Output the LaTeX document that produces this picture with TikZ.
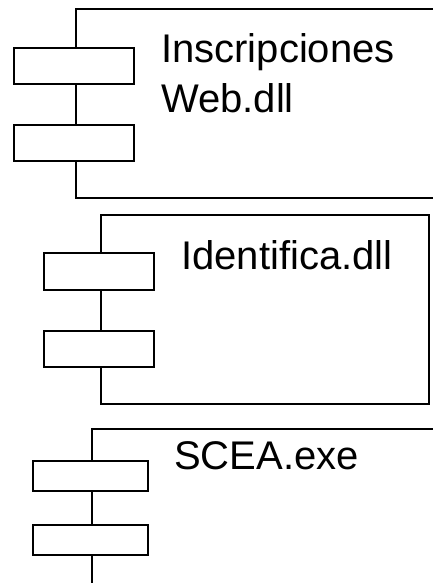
\documentclass[tikz,border=0pt]{standalone}
\usepackage{fontspec}
\setmainfont{Liberation Sans}
\begin{document}
\begin{tikzpicture}[x=1pt,y=-1pt,
  body/.style={draw,line width=1.6pt,rectangle,inner sep=0pt,anchor=north west},
  port/.style={draw,line width=1.6pt,fill=white,rectangle,inner sep=0pt,anchor=north west},
  lbl/.style={anchor=base west,inner sep=0pt,font=\fontsize{40}{50}\selectfont,align=left}]
\useasboundingbox (0,0) rectangle (433,583);
\clip (0,0) rectangle (433,583);
% component 1
\node[body,minimum width=375pt,minimum height=189pt] (c1) at (75,8) {};
\node[port,minimum width=120pt,minimum height=36pt] (c1a) at (13,47) {};
\node[port,minimum width=120pt,minimum height=36pt] (c1b) at (13,124) {};
\node[lbl] (t1) at (161,63) {Inscripciones};
\node[lbl] (t1b) at (161,113) {Web.dll};
% component 2
\node[body,minimum width=328pt,minimum height=189pt] (c2) at (100,214) {};
\node[port,minimum width=110pt,minimum height=37pt] (c2a) at (43,252) {};
\node[port,minimum width=110pt,minimum height=36pt] (c2b) at (43,330) {};
\node[lbl] (t2) at (181,269) {Identifica.dll};
% component 3
\node[body,minimum width=360pt,minimum height=180pt] (c3) at (91,428) {};
\node[port,minimum width=115pt,minimum height=30pt] (c3a) at (32,460) {};
\node[port,minimum width=115pt,minimum height=30pt] (c3b) at (32,524) {};
\node[lbl] (t3) at (174,469) {SCEA.exe};
\end{tikzpicture}
\end{document}
